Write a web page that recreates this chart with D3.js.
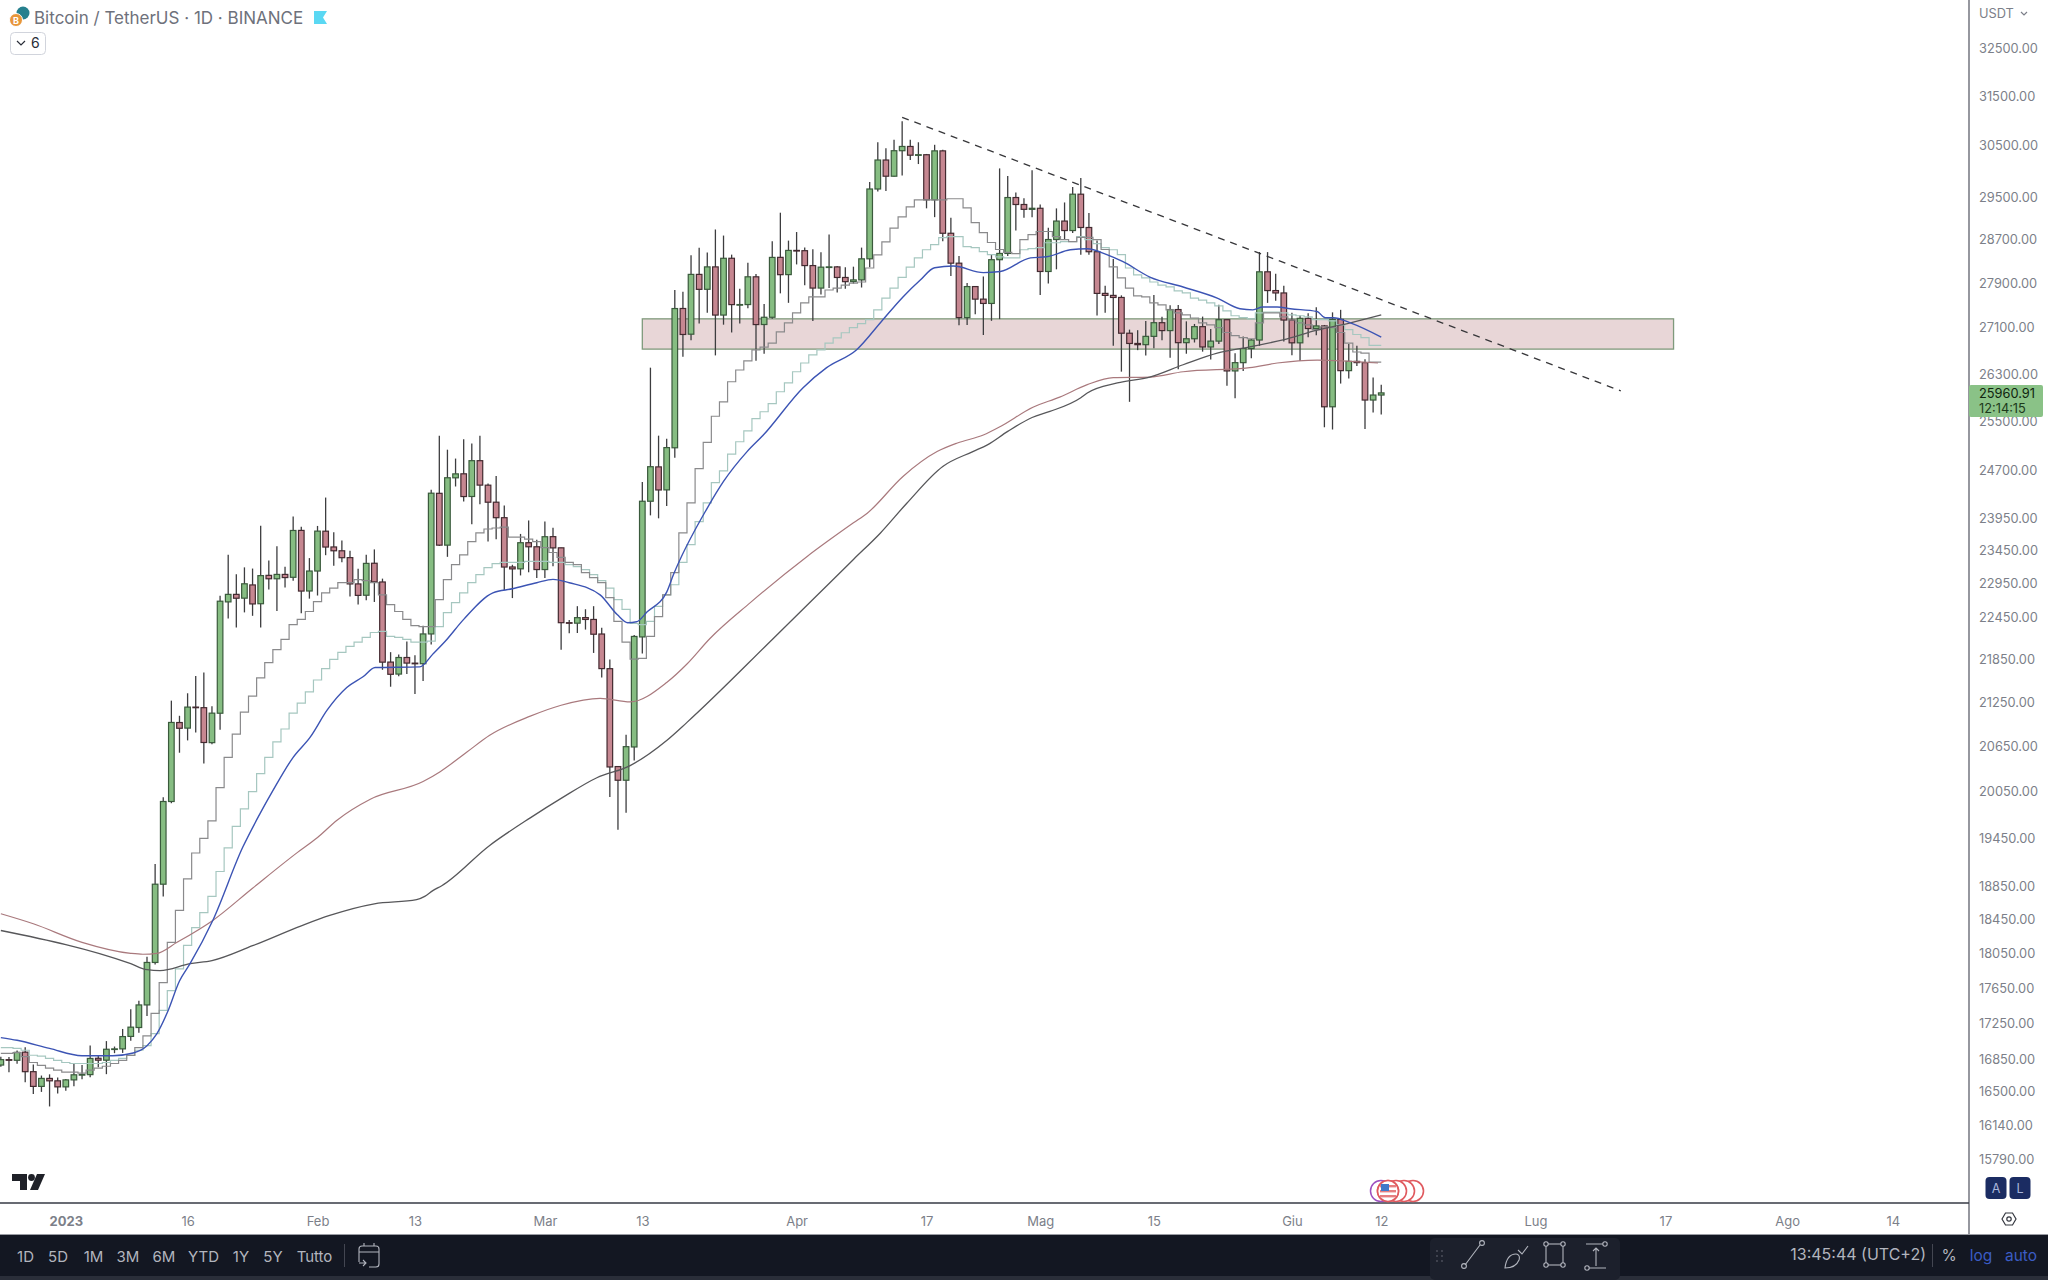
<!DOCTYPE html>
<html>
<head>
<meta charset="utf-8">
<script src="https://cdn.jsdelivr.net/npm/d3@7"></script>
<style>
  html, body { margin: 0; padding: 0; background: #fff; }
  svg { display: block; font-family: Inter, "Noto Sans", sans-serif; }
</style>
</head>
<body>
<div id="chart"></div>
<script>
// daily candles, 24 Dec 2022 -> 12 Jun 2023 (rows: Dec, Jan, Feb, Mar, Apr, May, Jun)
const opens = [
  16778,16837,16830,16919,16706,16547,16633,16607,
  16542,16617,16672,16674,16852,16831,16951,16955,17093,17192,17446,17934,18869,19910,20958,20882,21169,21161,20686,21085,22666,22777,22721,22917,22639,23060,23009,23074,23031,23743,22827,
  23125,23731,23489,23431,23327,22932,22764,23242,22961,21797,21628,21862,21782,21774,22199,24322,23517,24568,24632,24272,24843,24451,24182,23940,23186,23158,23554,23492,
  23147,23647,23476,22362,22355,22436,22409,22198,21704,20367,20187,20628,22156,24197,24743,24376,25052,27424,26970,28038,27768,28175,27307,28333,27494,27494,27994,27140,27268,28350,28034,
  28478,28473,28199,27790,28170,28175,27982,27906,27938,28323,29637,30200,29884,30383,30467,30295,30304,29430,30380,28797,28243,27262,27817,27591,27514,28307,28422,29473,29340,29248,
  29268,28091,28680,29026,28848,29537,28905,28454,27694,27658,27621,26987,26808,26787,26932,27172,27033,27405,26822,26890,27102,26747,26849,27225,26334,26476,26719,26868,28085,27745,27702,
  27219,26819,27249,27069,27115,25728,27230,26339,26498,26477,25841,25925];
const highs = [
  16869,16866,16937,16972,16785,16664,16677,16644,
  16628,16799,16778,16992,16880,17041,16981,17176,17398,17493,18000,19117,19964,21258,21050,21360,21600,21650,21181,22755,23371,23078,23180,23162,23816,23282,23500,23189,23960,23800,23320,
  23812,24255,23715,23587,23433,23158,23369,23452,23011,21938,21906,22090,21894,22319,24380,25250,25021,24877,25192,25121,25250,24476,24599,24132,23219,23689,23897,23600,
  23880,23783,23476,22400,22603,22558,22603,22287,21834,20367,20792,22185,24500,26390,25250,25200,27756,27725,28390,28528,28439,28868,28754,28400,27776,28250,28043,27504,28650,29184,28660,
  28820,28530,28500,28444,28775,28190,28170,28179,28530,29770,30550,30430,30600,30970,30600,30550,30319,30500,30400,29090,28374,27882,27817,28000,28400,30036,29890,29570,29460,30000,
  29338,28900,29266,29379,29677,29850,29180,28664,27830,28320,27659,27050,27040,27200,27666,27277,27480,27485,27196,27150,27280,27060,27490,27225,26640,26930,26888,28449,28447,28048,27834,
  27350,27300,27340,27445,27132,27355,27400,26800,26770,26533,26220,26100];
const lows = [
  16759,16700,16791,16592,16465,16488,16333,16470,
  16499,16548,16623,16646,16753,16679,16908,16911,17046,17135,17320,17910,18720,19888,20551,20716,20824,20407,20663,20859,22422,22292,22512,22462,22292,22850,22534,22878,22978,22500,22714,
  22760,23364,23206,23257,22745,22628,22692,22665,21688,21451,21599,21630,21351,21532,22047,23505,23339,24430,24192,23840,24148,23574,23608,22841,22722,23059,23106,23020,
  23020,23195,21971,22209,22213,22262,21927,21580,19969,19549,19765,20448,21918,23976,23930,24123,24890,26578,26862,27156,27347,26601,27137,27000,27156,27426,26508,26631,27240,27695,27525,
  28220,27841,27200,27675,27790,27708,27776,27870,27800,28170,29590,29600,29880,29900,30200,30121,29267,29100,28650,28010,27125,27130,27320,26956,27205,27235,28375,28850,29088,29100,
  27666,27872,28130,28688,28800,28400,28400,27300,27350,26770,26322,25811,26692,26600,26724,26863,26560,26361,26630,26825,26666,26531,26800,26080,25871,26333,26551,26765,27524,27561,26841,
  26605,26505,26915,26950,25388,25351,26119,26206,26420,25358,25634,25600];
const closes = [
  16837,16830,16917,16706,16547,16633,16607,16542,
  16617,16672,16675,16850,16831,16951,16955,17091,17196,17446,17934,18869,19910,20959,20880,21169,21161,20688,21086,22676,22777,22720,22934,22636,23056,23009,23074,23027,23742,22826,23125,
  23732,23488,23431,23326,22932,22762,23240,22963,21796,21625,21862,21783,21773,22199,24324,23517,24569,24631,24271,24843,24452,24182,23940,23185,23157,23554,23492,23147,
  23646,23475,22362,22354,22435,22409,22195,21705,20362,20187,20632,22163,24197,24746,24375,25055,27423,26965,28038,27767,28175,27307,28333,27493,27494,27994,27139,27268,28349,28033,28478,
  28473,28199,27790,28170,28175,27982,27906,27938,28323,29637,30200,29884,30383,30467,30295,30304,29430,30380,28797,28243,27262,27817,27591,27514,28307,28422,29473,29340,29248,29268,
  28091,28680,29026,28848,29537,28905,28454,27694,27658,27621,26987,26808,26787,26932,27172,27033,27405,26822,26890,27102,26747,26849,27225,26334,26476,26719,26868,28085,27745,27702,27219,
  26819,27249,27069,27115,25728,27230,26339,26498,26477,25841,25925,25961];

// stepped averages, one value a day
const fastStep = [
  16905,16905,16915,16870,16806,16775,16745,16723,
  16700,16700,16690,16723,16745,16765,16795,16828,16883,16970,17100,17350,17700,18170,18550,18935,19255,19440,19660,20090,20490,20800,21100,21320,21575,21790,21975,22120,22335,22410,22525,
  22670,22800,22870,22950,22950,22995,22980,22950,22770,22625,22525,22410,22320,22305,22305,22700,22995,23220,23370,23570,23705,23765,23780,23795,23640,23640,23610,23570,
  23480,23405,23330,23255,23220,23100,23025,22950,22730,22380,22080,21840,21850,22165,22450,22770,23100,23705,24170,24715,25140,25570,25810,26150,26350,26505,26695,26745,26815,27010,27170,
  27345,27525,27630,27630,27755,27790,27845,27880,27900,28155,28395,28635,28895,29105,29295,29430,29430,29430,29430,29450,29450,29275,28995,28810,28625,28495,28440,28420,28680,28770,
  28830,28830,28735,28680,28640,28720,28720,28680,28495,28175,27975,27790,27650,27630,27525,27490,27400,27345,27310,27255,27170,27135,27085,27000,26945,26910,26890,27170,27345,27345,27275,
  27220,27170,27135,27050,27100,27085,27000,26815,26660,26640,26485,26485];
const slowStep = [
  16970,16970,16960,16940,16885,16875,16850,16830,
  16806,16795,16795,16795,16795,16806,16830,16850,16885,16940,16990,17125,17385,17610,17860,18135,18345,18525,18720,19025,19320,19590,19816,20037,20275,20490,20695,20870,21085,21225,21380,
  21545,21705,21835,21935,22020,22080,22150,22220,22235,22165,22150,22120,22080,22080,22095,22305,22510,22655,22800,22950,23070,23175,23235,23255,23255,23255,23270,23270,
  23270,23255,23255,23220,23190,23145,23070,22980,22870,22700,22555,22350,22335,22380,22600,22770,22920,23255,23525,23880,24170,24490,24680,24950,25150,25330,25530,25645,25780,25980,26130,
  26320,26470,26610,26695,26815,26905,26995,27085,27155,27225,27400,27610,27790,27985,28170,28340,28490,28585,28715,28735,28735,28550,28530,28455,28400,28360,28340,28340,28490,28510,
  28530,28620,28620,28640,28640,28735,28680,28605,28530,28490,28400,28155,28030,27975,27900,27845,27810,27740,27705,27610,27575,27525,27470,27380,27295,27260,27240,27345,27360,27360,27345,
  27310,27295,27275,27225,27225,27205,27135,27050,26965,26910,26775,26775];

// smooth averages, read at the bends: day number from the first candle and price
const blueDays = [0,2,6,10,13.8,16.3,18,19.2,20.5,22,23.3,26.1,29.8,31.9,33.5,36,38.1,40.2,42.6,44.6,46.1,51.6,53.2,54.7,57,60.6,63,66,68,70,73.8,75.9,77.2,78.3,79.6,82,82.8,87,89,91.9,93.9,98.8,101.7,105.4,108.6,111.1,113.2,115,117.3,121,123.1,126.8,128.8,131.7,133.8,136.2,138.2,141.5,145.6,149.8,152.6,154.2,155.4,157.2,158.8,162.1,163.1,164.1,166.2,170];
const blueValues = [17080,17050,16960,16880,16880,16910,16990,17120,17360,17720,17920,18430,19330,19750,20050,20490,20760,21130,21440,21590,21720,21730,21910,22090,22410,22800,22860,22950,23000,22950,22770,22480,22360,22375,22520,22810,23060,24090,24510,24990,25260,26050,26390,26700,27220,27630,27930,28160,28190,28070,28090,28340,28360,28490,28510,28400,28270,27990,27810,27610,27420,27400,27450,27450,27420,27370,27260,27260,27170,26920];
const redDays = [0,4,10,16,17.5,19.2,21.7,26.1,31,36.5,39,41.4,45.5,52,54.1,57.4,60.2,65.2,69,73.8,77.5,82,84.5,87.3,92.3,99.3,105,106.7,111.1,115.3,117.8,121,123.1,127.1,130.4,133.8,137,141.5,145.6,153.8,157.2,162.1,169.6];
const redValues = [18510,18390,18170,18040,18030,18040,18170,18430,18820,19260,19450,19670,19940,20170,20300,20560,20785,21045,21195,21290,21240,21510,21770,22130,22655,23345,23860,24010,24590,24990,25130,25260,25400,25720,25890,26100,26220,26230,26320,26390,26470,26520,26470];
const darkDays = [0,16,18,19.6,23.3,26,31,37,40.5,46,51.2,52.2,53.2,54.3,60.2,65.2,69,73.4,77.5,82,84.5,95.1,100,105,108.3,111.6,116,119.7,121.5,124,127,129.2,133,133.8,137.5,141.5,145.6,149.8,153.8,157.9,162.1,166.2,170];
const darkValues = [18310,17920,17850,17840,17920,17956,18130,18366,18490,18630,18680,18720,18790,18850,19350,19700,19950,20220,20380,20715,20960,22130,22700,23300,23700,24170,24750,24990,25100,25320,25550,25650,25880,25960,26130,26230,26440,26640,26750,26870,27040,27170,27310];

const priceTicks = [32500,31500,30500,29500,28700,27900,27100,26300,25500,24700,23950,23450,22950,22450,21850,21250,20650,20050,19450,18850,18450,18050,17650,17250,16850,16500,16140,15790];
const timeTickDays = [8,23,39,51,67,79,98,114,128,142,159,170,189,205,220,233];
const timeTickLabels = ['2023','16','Feb','13','Mar','13','Apr','17','Mag','15','Giu','12','Lug','17','Ago','14'];
const rangeButtons = ['1D','5D','1M','3M','6M','YTD','1Y','5Y','Tutto'];

// drawn objects
const zoneDays = [79, 206];
const zonePrices = [27240, 26710];
const trendDays = [111, 199.5];
const trendPrices = [31050, 25995];
const lastPrice = 25960.91;

const W = 2048, H = 1280;
const axisX = 1969, axisY = 1203, barY = 1235;

const svg = d3.select('#chart').append('svg').attr('width', W).attr('height', H);
svg.append('rect').attr('width', W).attr('height', H).attr('fill', '#fff');
svg.append('clipPath').attr('id', 'plot').append('rect').attr('width', axisX).attr('height', axisY);

const firstDay = new Date(Date.UTC(2022, 11, 24));
const dayDate = n => new Date(+firstDay + n * 864e5);
const x = d3.scaleUtc().domain([firstDay, dayDate(233)]).range([0.84, 1892.8]);
const y = d3.scaleLog().domain([15790, 32500]).range([1158.5, 47]);
const xd = n => x(dayDate(n));

const plot = svg.append('g').attr('clip-path', 'url(#plot)');

// resistance zone
plot.append('rect')
    .attr('x', xd(zoneDays[0]))
    .attr('y', y(zonePrices[0]))
    .attr('width', xd(zoneDays[1]) - xd(zoneDays[0]))
    .attr('height', y(zonePrices[1]) - y(zonePrices[0]))
    .attr('fill', '#e8d6d7')
    .attr('stroke', '#7f9a7c')
    .attr('stroke-width', 1.3);

// candles
const candles = opens.map((o, i) => ({ i, o, h: highs[i], l: lows[i], c: closes[i] }));
const candle = plot.selectAll('.candle').data(candles).enter().append('g').attr('class', 'candle');
candle.append('line')
    .attr('x1', d => xd(d.i)).attr('x2', d => xd(d.i))
    .attr('y1', d => y(d.h)).attr('y2', d => y(d.l))
    .attr('stroke', '#3d3d3f')
    .attr('stroke-width', 1.3);
candle.append('rect')
    .attr('x', d => xd(d.i) - 2.8)
    .attr('width', 5.6)
    .attr('y', d => y(Math.max(d.o, d.c)))
    .attr('height', d => Math.max(0.6, Math.abs(y(d.o) - y(d.c))))
    .attr('fill', d => d.c >= d.o ? '#86bd82' : '#c68791')
    .attr('stroke', d => d.c >= d.o ? '#3a5a3c' : '#432a30')
    .attr('stroke-width', 1.2);

// averages
const stepLine = d3.line().x((d, i) => xd(i)).y(d => y(d)).curve(d3.curveStep);
plot.append('path').attr('d', stepLine(slowStep))
    .attr('fill', 'none').attr('stroke', '#a6c7c0').attr('stroke-width', 1.2);
plot.append('path').attr('d', stepLine(fastStep))
    .attr('fill', 'none').attr('stroke', '#8a8a8c').attr('stroke-width', 1.2);

function smooth(days, values, color, width) {
    const line = d3.line().x(d => xd(d)).y((d, i) => y(values[i])).curve(d3.curveMonotoneX);
    plot.append('path').attr('d', line(days))
        .attr('fill', 'none').attr('stroke', color).attr('stroke-width', width);
}
smooth(redDays, redValues, '#a9797d', 1.2);
smooth(darkDays, darkValues, '#57575a', 1.3);
smooth(blueDays, blueValues, '#3c54b4', 1.4);

// trend line
plot.append('line')
    .attr('x1', xd(trendDays[0])).attr('y1', y(trendPrices[0]))
    .attr('x2', xd(trendDays[1])).attr('y2', y(trendPrices[1]))
    .attr('stroke', '#37373a').attr('stroke-width', 1.3).attr('stroke-dasharray', '7 6');

// price axis
const yAxis = svg.append('g').attr('transform', `translate(${axisX},1)`)
    .call(d3.axisRight(y).tickValues(priceTicks).tickFormat(d3.format('.2f')).tickSize(0).tickPadding(10));
yAxis.select('.domain').remove();
yAxis.selectAll('text').attr('fill', '#7c7f89').style('font-size', '12.8px').style('font-family', 'Inter, sans-serif');

svg.append('line').attr('x1', axisX).attr('x2', axisX).attr('y1', 0).attr('y2', barY)
    .attr('stroke', '#50535e').attr('stroke-width', 1.2);

svg.append('text').attr('x', 1979).attr('y', 18).attr('fill', '#7c7f89').style('font-size', '12.8px').text('USDT');
svg.append('path').attr('d', 'M2021 12l3 3 3-3').attr('fill', 'none').attr('stroke', '#7c7f89').attr('stroke-width', 1.2);

// last price tag
svg.append('rect').attr('x', axisX).attr('y', y(lastPrice) - 8 ).attr('width', 74).attr('height', 32)
    .attr('rx', 2).attr('fill', '#8ac287');
svg.append('text').attr('x', 1979).attr('y', 398).attr('fill', '#10240f').style('font-size', '12.8px').text(d3.format('.2f')(lastPrice));
svg.append('text').attr('x', 1979).attr('y', 413).attr('fill', '#1c3a1b').style('font-size', '12.8px').text('12:14:15');

// time axis
svg.append('line').attr('x1', 0).attr('x2', axisX).attr('y1', axisY).attr('y2', axisY)
    .attr('stroke', '#363a45').attr('stroke-width', 1.6);
const xAxis = svg.append('g').attr('transform', `translate(0,${axisY})`)
    .call(d3.axisBottom(x).tickValues(timeTickDays.map(dayDate)).tickFormat((d, i) => timeTickLabels[i]).tickSize(0).tickPadding(10));
xAxis.select('.domain').remove();
xAxis.selectAll('text').attr('fill', '#7c7f89').attr('dy', '1.02em').style('font-size', '13px').style('font-family', 'Inter, sans-serif')
    .style('font-weight', (d, i) => i === 0 ? 700 : 400);

// header
const bc = svg.append('g');
bc.append('circle').attr('cx', 23).attr('cy', 13).attr('r', 6.5).attr('fill', '#26808e');
bc.append('circle').attr('cx', 16).attr('cy', 20).attr('r', 6.5).attr('fill', '#e8963a').attr('stroke', '#fff');
bc.append('text').attr('x', 16).attr('y', 23.5).attr('text-anchor', 'middle').attr('fill', '#fff')
    .style('font-size', '9px').style('font-weight', 700).text('B');
svg.append('text').attr('x', 34).attr('y', 24).attr('fill', '#6e717b').style('font-size', '17px')
    .text('Bitcoin / TetherUS · 1D · BINANCE');
svg.append('path').attr('d', 'M314 11h13l-4 6.5 4 6.5h-13z').attr('fill', '#5ad8f3');
svg.append('rect').attr('x', 10.5).attr('y', 32.5).attr('width', 35).attr('height', 22).attr('rx', 4)
    .attr('fill', '#fff').attr('stroke', '#d1d4dc');
svg.append('path').attr('d', 'M17 41l4 4 4-4').attr('fill', 'none').attr('stroke', '#2a2e39').attr('stroke-width', 1.2);
svg.append('text').attr('x', 31).attr('y', 48).attr('fill', '#2a2e39').style('font-size', '14px').text('6');

// tradingview mark
svg.append('path').attr('d', 'M12 1174h15v16h-7v-9h-8z M37 1174h8l-7 16h-8z').attr('fill', '#1f2128');
svg.append('circle').attr('cx', 31.5).attr('cy', 1177.5).attr('r', 3.4).attr('fill', '#1f2128');

// economic events
[1413, 1404, 1396, 1388].forEach(cx => {
    svg.append('circle').attr('cx', cx).attr('cy', 1191).attr('r', 10.5)
        .attr('fill', '#fff').attr('stroke', '#e05a5f').attr('stroke-width', 1.6);
});
svg.append('circle').attr('cx', 1381).attr('cy', 1191).attr('r', 10.5).attr('fill', 'none')
    .attr('stroke', '#9c4fc0').attr('stroke-width', 1.5);
svg.append('circle').attr('cx', 1388).attr('cy', 1191).attr('r', 10.5).attr('fill', '#fff')
    .attr('stroke', '#e05a5f').attr('stroke-width', 1.6);
[1185, 1190, 1195].forEach(sy => svg.append('rect').attr('x', 1380).attr('y', sy).attr('width', 16).attr('height', 2.4).attr('fill', '#e67e80'));
svg.append('rect').attr('x', 1381).attr('y', 1184).attr('width', 8).attr('height', 7).attr('fill', '#3f78c9');

// A / L buttons and settings
[['A', 1996], ['L', 2020]].forEach(([t, cx]) => {
    svg.append('rect').attr('x', cx - 10.5).attr('y', 1177).attr('width', 21).attr('height', 22).attr('rx', 4).attr('fill', '#1b2c62');
    svg.append('text').attr('x', cx).attr('y', 1192.5).attr('text-anchor', 'middle').attr('fill', '#aab7dc').style('font-size', '12.5px').text(t);
});
svg.append('path').attr('d', 'M2002 1219l3.5-6h7l3.5 6-3.5 6h-7z').attr('fill', 'none').attr('stroke', '#33363f').attr('stroke-width', 1.2);
svg.append('circle').attr('cx', 2009).attr('cy', 1219).attr('r', 2.2).attr('fill', 'none').attr('stroke', '#33363f').attr('stroke-width', 1.2);

// bottom bar
svg.append('line').attr('x1', 0).attr('x2', W).attr('y1', barY - 0.5).attr('y2', barY - 0.5).attr('stroke', '#9a9ca3');
svg.append('rect').attr('y', barY).attr('width', W).attr('height', 41).attr('fill', '#131722');
svg.append('rect').attr('y', barY + 41).attr('width', W).attr('height', H - barY - 41).attr('fill', '#2a2e39');

const rangeX = [25.5, 58, 93.5, 128, 164, 203.5, 241, 273, 314.5];
rangeButtons.forEach((t, i) => {
    svg.append('text').attr('x', rangeX[i]).attr('y', 1262).attr('text-anchor', 'middle')
        .attr('fill', '#b2b5be').style('font-size', '15px').text(t);
});
svg.append('line').attr('x1', 344.5).attr('x2', 344.5).attr('y1', 1244).attr('y2', 1267).attr('stroke', '#434651');
svg.append('path').attr('d', 'M359 1262v-13a3 3 0 0 1 3-3h14a3 3 0 0 1 3 3v15a3 3 0 0 1-3 3h-7 M359 1252h20 M364 1246v-3 M374 1246v-3 M359 1263h7 M363 1260l3 3-3 3')
    .attr('fill', 'none').attr('stroke', '#b2b5be').attr('stroke-width', 1.1);

// drawing tools
svg.append('rect').attr('x', 1430).attr('y', 1238).attr('width', 190).attr('height', 42).attr('rx', 5).attr('fill', '#1c202c');
[0, 1, 2].forEach(r => [0, 1].forEach(c => svg.append('circle').attr('cx', 1437 + c * 5).attr('cy', 1251 + r * 5).attr('r', 0.9).attr('fill', '#50535e')));
const tool = svg.append('g').attr('fill', 'none').attr('stroke', '#b2b5be').attr('stroke-width', 1.1);
tool.append('path').attr('d', 'M1465 1265l15-20');
tool.append('circle').attr('cx', 1464).attr('cy', 1266).attr('r', 2.4);
tool.append('circle').attr('cx', 1482).attr('cy', 1243).attr('r', 2.4);
tool.append('path').attr('d', 'M1505 1268c1-8 4-14 11-14 3 0 4 3 3 6-2 5-7 8-14 8z M1518 1250l4 4 6-8');
tool.append('rect').attr('x', 1546).attr('y', 1244).attr('width', 17).attr('height', 21);
[[1546, 1244], [1563, 1244], [1546, 1265], [1563, 1265]].forEach(([cx, cy]) => tool.append('circle').attr('cx', cx).attr('cy', cy).attr('r', 2.2).attr('fill', '#1c202c'));
tool.append('path').attr('d', 'M1586 1244h17 M1589 1268h17 M1596 1266v-18 M1593 1251l3-3 3 3');
tool.append('circle').attr('cx', 1605).attr('cy', 1244).attr('r', 2.2).attr('fill', '#1c202c');
tool.append('circle').attr('cx', 1587).attr('cy', 1268).attr('r', 2.2).attr('fill', '#1c202c');

svg.append('text').attr('x', 1926).attr('y', 1260).attr('text-anchor', 'end').attr('fill', '#b2b5be').style('font-size', '16px').text('13:45:44 (UTC+2)');
svg.append('line').attr('x1', 1932.5).attr('x2', 1932.5).attr('y1', 1244).attr('y2', 1267).attr('stroke', '#434651');
svg.append('text').attr('x', 1949).attr('y', 1261).attr('text-anchor', 'middle').attr('fill', '#b2b5be').style('font-size', '15.5px').text('%');
svg.append('text').attr('x', 1981).attr('y', 1261).attr('text-anchor', 'middle').attr('fill', '#3b5cc4').style('font-size', '15.5px').text('log');
svg.append('text').attr('x', 2021).attr('y', 1261).attr('text-anchor', 'middle').attr('fill', '#3b5cc4').style('font-size', '15.5px').text('auto');
</script>
</body>
</html>
